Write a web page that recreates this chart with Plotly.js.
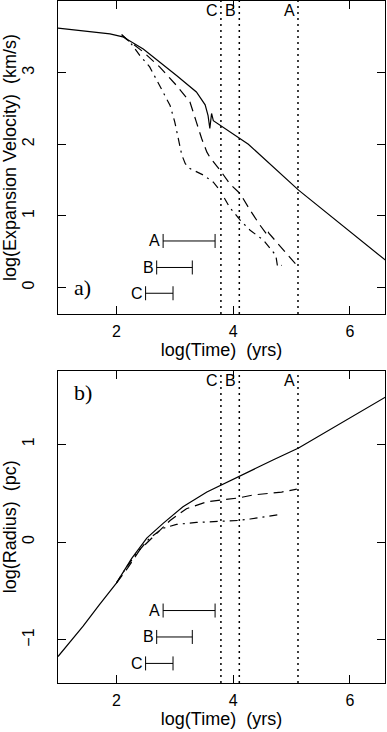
<!DOCTYPE html>
<html>
<head>
<meta charset="utf-8">
<script src="https://cdn.plot.ly/plotly-3.0.1.min.js"></script>
<style>
  html, body { margin: 0; padding: 0; background: #fff; }
  #plot { width: 387px; height: 732px; }
</style>
</head>
<body>
<div id="plot"></div>
<script>
// panel a: log(expansion velocity) vs log(time)
const velTimeA = [1.0, 1.5, 1.89, 2.11, 2.46, 3.03, 3.37, 3.52, 3.57, 3.60, 3.63, 3.66, 4.26, 5.12, 6.61];
const velA = [3.62, 3.58, 3.54, 3.50, 3.33, 2.96, 2.73, 2.55, 2.40, 2.22, 2.43, 2.33, 2.00, 1.36, 0.38];
const velTimeB = [2.09, 2.17, 2.46, 2.74, 3.03, 3.26, 3.37, 3.46, 3.55, 3.60, 3.80, 3.94, 4.12, 4.29, 4.46, 4.57, 4.59, 4.61, 4.77, 4.97, 5.09];
const velB = [3.53, 3.47, 3.29, 3.08, 2.82, 2.59, 2.31, 2.08, 1.89, 1.82, 1.61, 1.45, 1.31, 1.08, 0.87, 0.75, 0.80, 0.76, 0.61, 0.43, 0.31];
const velTimeC = [2.09, 2.23, 2.40, 2.57, 2.74, 2.92, 3.00, 3.06, 3.12, 3.18, 3.26, 3.49, 3.66, 3.77, 3.94, 4.12, 4.29, 4.52, 4.73, 4.76, 4.83];
const velC = [3.53, 3.43, 3.24, 3.08, 2.82, 2.54, 2.31, 2.08, 1.85, 1.73, 1.66, 1.57, 1.47, 1.36, 1.12, 0.94, 0.80, 0.66, 0.45, 0.29, 0.31];

// panel b: log(radius) vs log(time)
const radTimeA = [1.0, 1.43, 1.71, 2.0, 2.26, 2.52, 2.80, 3.14, 3.55, 4.09, 4.69, 5.12, 5.77, 6.61];
const radA = [-1.17, -0.86, -0.64, -0.42, -0.17, 0.04, 0.19, 0.36, 0.51, 0.67, 0.84, 0.96, 1.19, 1.48];
const radTimeB = [2.0, 2.2, 2.40, 2.69, 2.92, 3.20, 3.55, 4.09, 4.34, 4.83, 5.09];
const radB = [-0.42, -0.26, -0.08, 0.09, 0.22, 0.34, 0.41, 0.45, 0.48, 0.51, 0.54];
const radTimeC = [2.0, 2.17, 2.34, 2.57, 2.80, 3.03, 3.37, 3.77, 4.09, 4.29, 4.80];
const radC = [-0.42, -0.26, -0.12, 0.04, 0.14, 0.18, 0.20, 0.21, 0.22, 0.235, 0.28];

// vertical marker lines
const markNames = ['C', 'B', 'A'];
const markTime = [3.79, 4.105, 5.11];

// horizontal time ranges
const rangeNames = ['A', 'B', 'C'];
const rangeStart = [2.80, 2.69, 2.50];
const rangeEnd = [3.69, 3.30, 2.97];
const rangeYa = [0.65, 0.28, -0.08];
const rangeYb = [-0.70, -0.97, -1.24];

const font = { family: 'Liberation Sans, Arial, sans-serif', size: 16, color: '#000' };
const titleFont = { family: 'Liberation Sans, Arial, sans-serif', size: 18, color: '#000' };
const solid = { color: '#000', width: 1.2 };
const dashed = { color: '#000', width: 1.2, dash: '10px,6px' };
const dashdot = { color: '#000', width: 1.2, dash: '8px,5px,2px,5px' };

function line(x, y, style, xa, ya) {
  return { x, y, type: 'scatter', mode: 'lines', line: style, xaxis: xa, yaxis: ya, hoverinfo: 'skip' };
}

const traces = [
  line(velTimeA, velA, solid, 'x', 'y'),
  line(velTimeB, velB, dashed, 'x', 'y'),
  line(velTimeC, velC, dashdot, 'x', 'y'),
  line(radTimeA, radA, solid, 'x2', 'y2'),
  line(radTimeB, radB, dashed, 'x2', 'y2'),
  line(radTimeC, radC, dashdot, 'x2', 'y2')
];

const shapes = [];
const annotations = [];

[['x', 'y', rangeYa], ['x2', 'y2', rangeYb]].forEach(([xa, ya, ys]) => {
  rangeNames.forEach((name, i) => {
    traces.push({
      x: [rangeStart[i], rangeEnd[i]], y: [ys[i], ys[i]],
      type: 'scatter', mode: 'lines+markers', xaxis: xa, yaxis: ya,
      line: { color: '#000', width: 1 },
      marker: { symbol: 'line-ns', size: 10, line: { color: '#000', width: 1 } },
      hoverinfo: 'skip'
    });
    annotations.push({
      x: rangeStart[i], y: ys[i], xref: xa, yref: ya, text: name,
      showarrow: false, xanchor: 'right', xshift: -1, font
    });
  });
  markTime.forEach((t, i) => {
    shapes.push({
      type: 'line', xref: xa, yref: ya + ' domain', x0: t, x1: t, y0: 0, y1: 1,
      line: { color: '#000', width: 1.5, dash: '2px,4px' }
    });
    annotations.push({
      x: t, y: 1, xref: xa, yref: ya + ' domain', text: markNames[i],
      showarrow: false, xanchor: 'right', yanchor: 'top', xshift: -1, yshift: 1, font
    });
  });
});

const serif = { family: 'Liberation Serif, Times New Roman, serif', size: 22, color: '#000' };
annotations.push({ x: 0.042, y: 0, xref: 'x domain', yref: 'y', text: 'a)', showarrow: false, xanchor: 'left', font: serif });
annotations.push({ x: 0.042, y: 1.53, xref: 'x2 domain', yref: 'y2', text: 'b)', showarrow: false, xanchor: 'left', font: serif });

const xBase = {
  range: [1, 6.6], tickvals: [2, 4, 6], ticks: 'inside', ticklen: 8, tickcolor: '#000',
  showline: true, mirror: 'ticks', linecolor: '#000', linewidth: 1,
  showgrid: false, zeroline: false, ticklabelstandoff: 3, tickfont: font,
  title: { text: 'log(Time) \u00a0(yrs)', font: titleFont, standoff: 4 }
};
const yBase = {
  ticks: 'inside', ticklen: 8, tickcolor: '#000', tickangle: -90,
  showline: true, mirror: 'ticks', linecolor: '#000', linewidth: 1,
  showgrid: false, zeroline: false, ticklabelstandoff: 17, tickfont: font
};

const layout = {
  width: 387, height: 732,
  margin: { l: 58, r: 2, t: 1, b: 49 },
  paper_bgcolor: '#fff', plot_bgcolor: '#fff',
  showlegend: false, font,
  xaxis: Object.assign({}, xBase, { domain: [0, 1], anchor: 'y' }),
  yaxis: Object.assign({}, yBase, {
    domain: [0.541, 1], anchor: 'x', range: [-0.37, 4.0], tickvals: [0, 1, 2, 3],
    title: { text: 'log(Expansion Velocity) \u00a0(km/s)', font: titleFont, standoff: 4 }
  }),
  xaxis2: Object.assign({}, xBase, { domain: [0, 1], anchor: 'y2' }),
  yaxis2: Object.assign({}, yBase, {
    domain: [0, 0.458], anchor: 'x2', range: [-1.44, 1.75], tickvals: [-1, 0, 1],
    title: { text: 'log(Radius) \u00a0(pc)', font: titleFont, standoff: 4 }
  }),
  shapes, annotations
};

Plotly.newPlot('plot', traces, layout, { staticPlot: true });
</script>
</body>
</html>
